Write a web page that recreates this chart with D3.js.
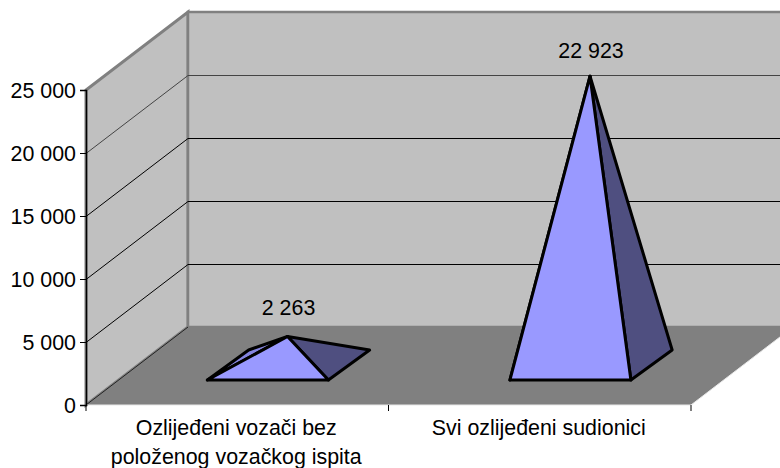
<!DOCTYPE html>
<html>

<head>
    <meta charset="utf-8">
    <style>
        body {
            margin: 0;
            background: white;
        }

        svg {
            display: block;
            font-family: "Liberation Sans", Arial, sans-serif;
        }

        .axis text {
            font-size: 21.4px;
            fill: #000;
        }
    </style>
</head>

<body>
    <svg width="780" height="468"></svg>

    <script src="https://d3js.org/d3.v7.min.js"></script>
    <script>
        // values
        let categories = ["Ozlijeđeni vozači bez|položenog vozačkog ispita", "Svi ozlijeđeni sudionici"];
        let values = [2263, 22923];
        let valueLabels = ["2 263", "22 923"];
        let yTicks = [0, 5000, 10000, 15000, 20000, 25000];

        let width = 780;
        let height = 468;

        let svg = d3.select("svg").attr("viewBox", [0, 0, width, height]);

        // front plane of the 3d box
        let x = d3.scaleBand().domain(categories).range([86, 691]);
        let y = d3.scaleLinear().domain([0, 25000]).range([405, 90]);

        // oblique projection: z 0 is the front, z 1 the back wall
        let depthX = 102;
        let depthY = 78;
        let project = (px, v, z) => [px + depthX * z, y(v) - depthY * z];
        let line = d3.line();
        let closed = pts => line(pts) + "Z";

        let x0 = x.range()[0];
        let x1 = x.range()[1];

        // walls and floor
        svg.append("path")
            .attr("d", closed([project(x0, 0, 0), project(x0, 25000, 0), project(x0, 25000, 1), project(x0, 0, 1)]))
            .attr("fill", "#c0c0c0")
            .attr("stroke", "#808080")
            .attr("stroke-width", 3);

        svg.append("path")
            .attr("d", closed([project(x0, 0, 1), project(x0, 25000, 1), project(x1, 25000, 1), project(x1, 0, 1)]))
            .attr("fill", "#c0c0c0")
            .attr("stroke", "#808080")
            .attr("stroke-width", 2.5);

        svg.append("path")
            .attr("d", closed([project(x0, 0, 0), project(x1, 0, 0), project(x1, 0, 1), project(x0, 0, 1)]))
            .attr("fill", "#808080");

        // floor edge: dark on the wall side, light along the front
        svg.append("path")
            .attr("d", line([project(x0, 0, 0), project(x0, 0, 1)]))
            .attr("fill", "none")
            .attr("stroke", "#222")
            .attr("stroke-width", 1);

        svg.append("path")
            .attr("d", line([project(x0, 0, 0), project(x1, 0, 0), project(x1, 0, 1)]))
            .attr("fill", "none")
            .attr("stroke", "#e8e8e8")
            .attr("stroke-width", 1);

        // gridlines, along the side wall then the back wall
        svg.append("g")
            .attr("transform", "translate(0,0.5)")
            .selectAll("path")
            .data(yTicks.filter(d => d > 0 && d < 25000))
            .join("path")
            .attr("d", d => line([project(x0, d, 0), project(x0, d, 1), project(x1, d, 1)]))
            .attr("fill", "none")
            .attr("stroke", d => d == 20000 ? "#444" : "#000")
            .attr("stroke-width", 1);

        // pyramids
        let pyramids = svg.append("g")
            .selectAll("g")
            .data(categories.map((c, i) => ({ c, value: values[i], label: valueLabels[i] })))
            .join("g");

        let baseInset = 0.3;
        let frontShift = -2;
        let zFront = 0.32;
        let zBack = 0.705;

        function corners(d) {
            let left = x(d.c) + x.bandwidth() * baseInset;
            let right = x(d.c) + x.bandwidth() * (1 - baseInset);
            let mid = (left + right) / 2;
            let zMid = (zFront + zBack) / 2;
            return {
                fl: project(left + frontShift, 0, zFront),
                fr: project(right + frontShift, 0, zFront),
                br: project(right, 0, zBack),
                bl: project(left, 0, zBack),
                apex: project(mid + frontShift, d.value, zMid)
            };
        }

        let faces = [
            { fill: "#8585e0", pts: c => [c.fl, c.bl, c.apex] },
            { fill: "#4f4f80", pts: c => [c.fr, c.br, c.apex] },
            { fill: "#9999ff", pts: c => [c.fl, c.fr, c.apex] }
        ];

        pyramids.selectAll("path")
            .data(d => faces.map(f => ({ fill: f.fill, pts: f.pts(corners(d)) })))
            .join("path")
            .attr("d", d => closed(d.pts))
            .attr("fill", d => d.fill)
            .attr("stroke", "#000")
            .attr("stroke-width", 3)
            .attr("stroke-linejoin", "round");

        // label gap above the apex shrinks a little for the tall one
        let labelGap = d3.scaleLinear().domain([2263, 22923]).range([21.5, 18.5]);

        pyramids.append("text")
            .attr("x", d => corners(d).apex[0] + 1)
            .attr("y", d => corners(d).apex[1] - labelGap(d.value))
            .attr("text-anchor", "middle")
            .attr("font-size", 21.4)
            .text(d => d.label);

        // axes
        let yAxis = d3.axisLeft(y)
            .tickValues(yTicks)
            .tickSize(6)
            .tickPadding(4)
            .tickFormat(d => d3.format(",")(d).replace(",", " "));

        svg.append("g")
            .attr("class", "axis")
            .attr("transform", `translate(${x0},0)`)
            .call(yAxis)
            .call(g => g.select(".domain").attr("stroke-width", 1.5))
            .call(g => g.selectAll(".tick text").attr("dy", "0.36em"));

        let xAxis = d3.axisBottom(x).tickSize(0).tickPadding(0).tickFormat("");

        let xg = svg.append("g")
            .attr("class", "axis")
            .attr("transform", `translate(0,${y(0)})`)
            .call(xAxis)
            .call(g => g.select(".domain").remove());

        xg.selectAll(".tick text").remove();

        xg.selectAll(".tick")
            .append("text")
            .attr("text-anchor", "middle")
            .attr("x", -1)
            .attr("y", 30)
            .selectAll("tspan")
            .data(d => d.split("|"))
            .join("tspan")
            .attr("x", -1)
            .attr("dy", (d, i) => i ? 28.5 : 0)
            .text(d => d);

        // tick marks sit on the category edges
        xg.selectAll(".edge")
            .data([x0, x0 + x.step(), x1])
            .join("line")
            .attr("class", "edge")
            .attr("x1", d => d)
            .attr("x2", d => d)
            .attr("y1", 0)
            .attr("y2", 6)
            .attr("stroke", "#000");
    </script>
</body>

</html>
